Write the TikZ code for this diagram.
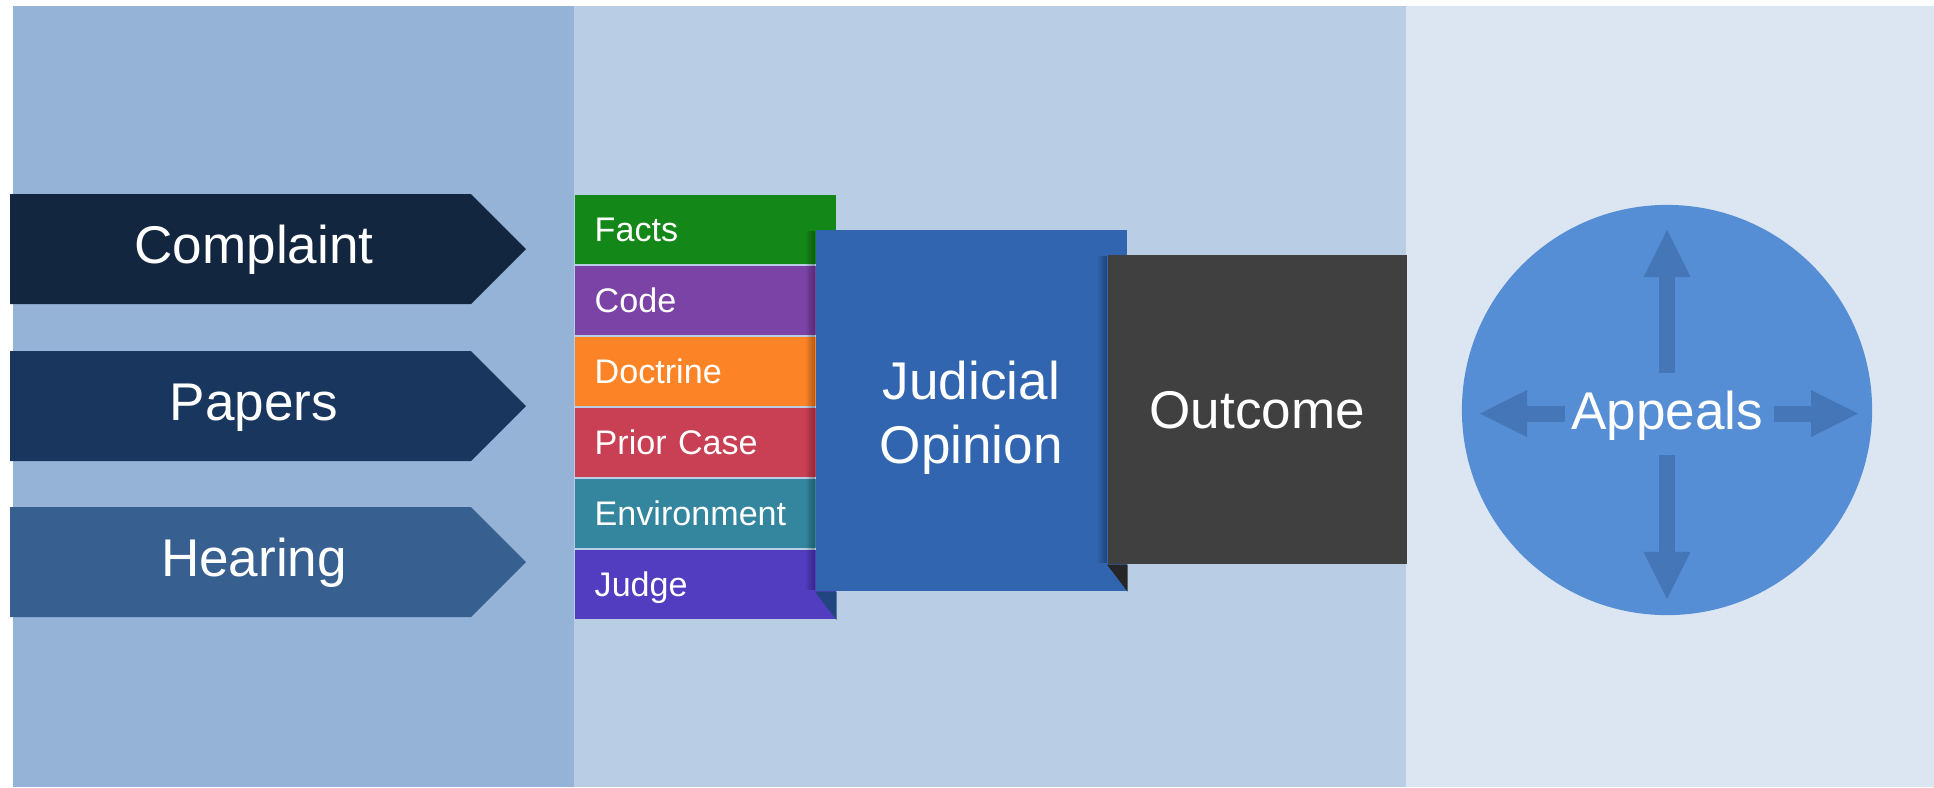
\documentclass[tikz,border=0pt]{standalone}
\usepackage{fontspec}
\setmainfont{Liberation Sans}
\usepackage{tikz}
\usetikzlibrary{arrows.meta}
\usepackage{xcolor}
\definecolor{leftPanel}{HTML}{95B3D7}
\definecolor{midPanel}{HTML}{B9CDE5}
\definecolor{rightPanel}{HTML}{DCE6F2}
\definecolor{complaintBlue}{HTML}{13263F}
\definecolor{papersBlue}{HTML}{19375E}
\definecolor{hearingBlue}{HTML}{376091}
\definecolor{factsGreen}{HTML}{138717}
\definecolor{codePurple}{HTML}{7B43A5}
\definecolor{doctrineOrange}{HTML}{FD8426}
\definecolor{priorRed}{HTML}{C93F53}
\definecolor{envTeal}{HTML}{33869E}
\definecolor{judgeViolet}{HTML}{523CBF}
\definecolor{opinionBlue}{HTML}{3165AF}
\definecolor{opinionFold}{HTML}{21467F}
\definecolor{outcomeGrey}{HTML}{404040}
\definecolor{outcomeFold}{HTML}{262626}
\definecolor{appealBlue}{HTML}{558ED5}
\definecolor{appealArrow}{HTML}{4576B8}

\begin{document}
\begin{tikzpicture}
		[x=0.01cm,y=-0.01cm,
		bigDecorate/.style={text=white,inner sep=0pt,font=\fontsize{15.1}{18.2}\selectfont},
		capDecorate/.style={text height=0.38cm,text depth=0pt},
		stackDecorate/.style={anchor=north west,minimum height=0.695cm,text width=2.21cm,
			inner xsep=0.2cm,inner ysep=0pt,align=left,text=white,
			text height=0.245cm,text depth=0pt,font=\fontsize{9.7}{11.6}\selectfont},
		boxDecorate/.style={anchor=north west,bigDecorate,capDecorate},
		arrowDecorate/.style={draw=appealArrow,line width=0.16cm,
			-{Triangle[width=0.47cm,length=0.47cm,line width=0pt]}},
		shadeDecorate/.style={fill=black,opacity=0.05}]
		%% panels
		\fill[white] (0,0) rectangle (1934,787);
		\fill[leftPanel] (13,6) rectangle (574,787);
		\fill[midPanel] (574,6) rectangle (1406,787);
		\fill[rightPanel] (1406,6) rectangle (1934,787);
		\useasboundingbox (0,0) rectangle (1934,787);
		%% filings
		\foreach \nodename/\y/\tint/\word in {
			complaint/194/complaintBlue/Complaint, papers/351/papersBlue/Papers,
			hearing/507/hearingBlue/Hearing}
		{
			\fill[\tint] (10,\y) -- (471,\y) -- (526,\y+55) -- (471,\y+110) -- (10,\y+110) -- cycle;
			\node[bigDecorate,capDecorate] (\nodename) at (254,\y+50) {\word};
		}
		%% sources
		\foreach \i/\nodename/\tint/\word in {
			0/facts/factsGreen/Facts, 1/code/codePurple/Code, 2/doctrine/doctrineOrange/Doctrine,
			3/prior/priorRed/Prior Case, 4/environment/envTeal/Environment, 5/judge/judgeViolet/Judge}
		{
			\node[stackDecorate,fill=\tint] (\nodename) at (574,194+71*\i) {\word};
		}
		%% opinion
		\foreach \s in {1,...,6}
			\fill[shadeDecorate] (815-1.5*\s,231) rectangle (815,590);
		\node[boxDecorate,fill=opinionBlue,minimum width=3.11cm,minimum height=3.61cm] (opinion) at (815,229) {};
		\node[bigDecorate,align=center] (opiniontext) at ([yshift=-0.07cm]opinion.center) {Judicial\\Opinion};
		\fill[opinionFold] (opinion.south west) -- (opinion.south west -| judge.east) -- (judge.south east) -- cycle;
		%% outcome
		\foreach \s in {1,...,6}
			\fill[shadeDecorate] (1107-1.5*\s,256) rectangle (1107,563);
		\node[boxDecorate,fill=outcomeGrey,minimum width=2.99cm,minimum height=3.09cm] (outcome) at (1107,254) {Outcome};
		\fill[outcomeFold] (outcome.south west) -- (outcome.south west -| opinion.east) -- (opinion.south east) -- cycle;
		%% appeals
		\node[circle,fill=appealBlue,minimum size=4.1cm,bigDecorate,capDecorate] (appeals) at (1667,410) {Appeals};
		\foreach \dx/\dy/\ex/\ey in {0/-37/0/-143, 0/45/0/144, -102/3.5/-85/0, 107/3.5/84/0}
		{
			\draw[arrowDecorate] ([shift={(\dx,\dy)}]appeals.center) -- ++(\ex,\ey);
		}
	\end{tikzpicture}
\end{document}
